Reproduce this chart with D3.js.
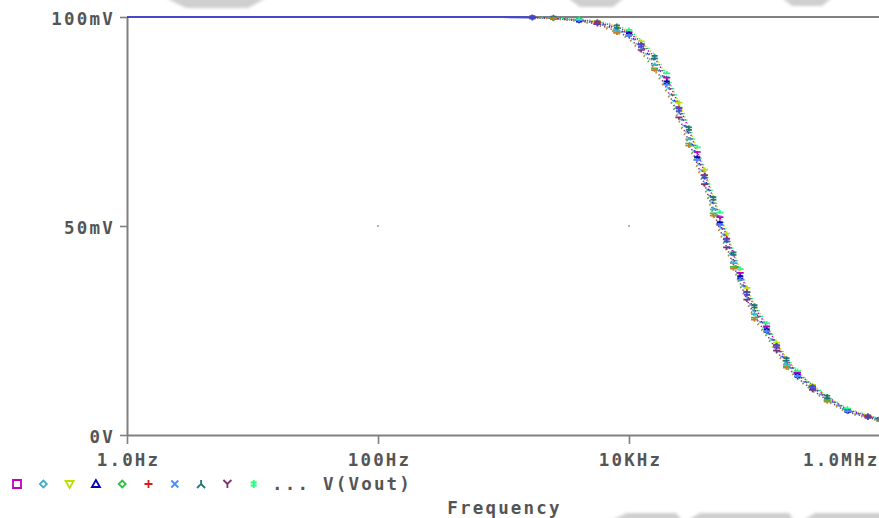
<!DOCTYPE html>
<html>
<head>
<meta charset="utf-8">
<script src="https://cdn.jsdelivr.net/npm/d3@7"></script>
<style>
  html, body { margin: 0; padding: 0; background: #fff; overflow: hidden; }
  svg { display: block; }
  .lbl { font-family: "DejaVu Sans Mono", monospace; font-weight: bold; font-size: 17.5px; letter-spacing: 2.2px; fill: #555; }
</style>
</head>
<body>
<svg id="chart" width="879" height="518"></svg>
<script>
// AC sweep of V(Vout): one frequency grid shared by every Monte Carlo run (values in mV)
const freqHz = [1, 10, 100, 1000, 1700, 2500, 4000, 5600, 8000, 10000, 12500, 16000, 20000, 25000,
  30000, 35000, 40000, 47000, 53000, 60000, 68000, 77000, 87000, 100000, 125000, 150000, 180000,
  220000, 290000, 380000, 550000, 800000, 1000000];

const run01 = [100,100,100,100,99.9,99.8,99.3,98.9,97.6,96.4,93.8,90.3,85.5,78.9,73.1,67.7,62.9,56.4,52.1,47.6,43.3,38.8,34.7,30.7,26.0,21.8,18.0,14.9,11.8,9.1,6.1,4.6,3.8];
const run02 = [100,100,100,100,99.9,99.6,99.1,98.4,96.8,95.4,92.4,88.5,83.3,76.5,70.7,65.3,60.5,54.0,49.7,45.4,41.1,36.8,32.8,28.9,24.5,20.5,16.8,13.9,11.0,8.4,5.6,4.3,3.5];
const run03 = [100,100,100,100,99.9,99.8,99.4,99.0,97.8,96.7,94.2,90.7,86.0,79.5,73.7,68.3,63.5,57.0,52.7,48.2,43.8,39.3,35.2,31.1,26.4,22.1,18.3,15.1,12.0,9.2,6.2,4.7,3.8];
const run04 = [100,100,100,100,99.9,99.7,99.2,98.6,97.1,95.8,93.1,89.1,84.3,77.4,71.8,66.2,61.6,55.0,50.6,46.4,41.9,37.7,33.5,29.7,25.0,21.1,17.3,14.2,11.3,8.7,5.8,4.4,3.6];
const run05 = [100,100,100,100,99.9,99.6,99.0,98.2,96.4,94.9,91.8,87.7,82.4,75.5,69.7,64.3,59.5,53.0,48.7,44.4,40.2,35.9,32.0,28.1,23.8,19.9,16.3,13.5,10.6,8.2,5.4,4.1,3.4];
const run06 = [100,100,100,100,99.9,99.7,99.3,98.7,97.4,96.1,93.4,89.7,84.8,78.2,72.4,67.0,62.2,55.7,51.4,47.0,42.6,38.2,34.2,30.1,25.6,21.4,17.7,14.6,11.5,8.9,5.9,4.5,3.7];
const run07 = [100,100,100,100,99.9,99.7,99.2,98.5,96.9,95.6,92.7,88.8,83.8,77.0,71.2,65.8,61.0,54.5,50.2,45.8,41.6,37.2,33.2,29.2,24.8,20.7,17.1,14.1,11.1,8.6,5.7,4.3,3.5];
const run08 = [100,100,100,100,99.9,99.8,99.4,98.9,97.7,96.5,94.0,90.4,85.6,79.1,73.3,67.9,63.1,56.6,52.3,47.8,43.4,39.0,34.9,30.8,26.1,21.9,18.1,14.9,11.8,9.1,6.1,4.6,3.8];
const run09 = [100,100,100,100,99.9,99.6,99.1,98.3,96.6,95.1,92.1,88.1,82.9,76.0,70.2,64.8,60.0,53.5,49.2,44.9,40.7,36.3,32.4,28.5,24.1,20.2,16.6,13.7,10.8,8.3,5.5,4.2,3.4];
const run10 = [100,100,100,100,100,99.8,99.5,99.1,98.0,96.9,94.5,91.1,86.5,80.0,74.2,68.8,64.0,57.5,53.2,48.7,44.3,39.7,35.6,31.5,26.7,22.4,18.6,15.3,12.1,9.4,6.3,4.8,3.9];
const run11 = [100,100,100,100,99.9,99.6,99.0,98.1,96.2,94.7,91.5,87.3,81.9,75.0,69.2,63.8,59.0,52.5,48.2,43.9,39.8,35.5,31.6,27.6,23.5,19.6,16.1,13.3,10.5,8.0,5.3,4.0,3.3];
const run12 = [100,100,100,100,99.9,99.7,99.2,98.7,97.2,95.9,93.2,89.4,84.5,77.8,72.0,66.6,61.8,55.3,51.0,46.6,42.3,37.9,33.8,29.8,25.3,21.2,17.5,14.4,11.4,8.8,5.9,4.4,3.6];

const runs = [run01, run02, run03, run04, run05, run06, run07, run08, run09, run10, run11, run12];
const runColors = ["#c000c0", "#40b0c8", "#b8e000", "#0000b8", "#30c040", "#d02020",
  "#4a8cff", "#207878", "#803070", "#20ff80", "#c88030", "#4848c8"];
const runMarkers = ["square", "diamond", "triDown", "triUp", "diamond", "plus",
  "cross", "invY", "wye", "dagger", "bar", "dagger"];

const xTicks = [1, 100, 1e4, 1e6];
const xTickLabels = ["1.0Hz", "100Hz", "10KHz", "1.0MHz"];
const yTicks = [0, 50, 100];
const yTickLabels = ["0V", "50mV", "100mV"];
const legendShown = 10;
const legendText = "... V(Vout)";
const xTitle = "Frequency";

// legend marker outlines, drawn around (0,0)
const markerPath = {
  square:  "M-4,-4H4V4H-4Z",
  diamond: "M0,-3.5L3.5,0L0,3.5L-3.5,0Z",
  triDown: "M-4,-3H4L0,4Z",
  triUp:   "M0,-4L4,3H-4Z",
  plus:    "M-4,0H4M0,-4V4",
  cross:   "M-3.5,-3.5L3.5,3.5M3.5,-3.5L-3.5,3.5",
  invY:    "M0,-4V0L-4,4M0,0L4,4",
  wye:     "M-4,-4L0,0L4,-4M0,0V4",
  dagger:  "M0,-4V4M-3,-1.5H3M-3,1.5H3",
  bar:     "M-3.5,0H3.5"
};
// the same markers as they come out at trace size: small bars with a stem
const traceMark = ["M-3.5,0H3.5M0,0V2.5", "M-3.5,0H3.5M0,-2.5V0", "M-3.5,0H3.5M0,-2V2",
  "M-3,-1.2H3M-3,1.2H3M0,-3V3"];

const svg = d3.select("#chart");
const plotLeft = 127, plotRight = 880, plotTop = 17, plotBottom = 435;

const x = d3.scaleLog().domain([1, 1e6]).range([plotLeft, plotRight]);
const y = d3.scaleLinear().domain([0, 100]).range([plotBottom, plotTop]);

// soft grey shading along the top and bottom edges
const defs = svg.append("defs");
defs.append("filter").attr("id", "soft").attr("x", "-20%").attr("y", "-100%")
  .attr("width", "140%").attr("height", "300%")
  .append("feGaussianBlur").attr("stdDeviation", 1.6);
const shade = svg.append("g").attr("filter", "url(#soft)").attr("fill", "#cfcfcf");
[
  [[166,-2],[266,-2],[248,8],[186,8]],
  [[568,-2],[624,-2],[613,7],[580,7]],
  [[782,-2],[832,-2],[822,6],[792,6]],
  [[612,520],[627,513],[676,513],[682,520]],
  [[688,520],[700,513],[789,513],[794,520]],
  [[804,520],[815,513],[884,513],[884,520]]
].forEach(p => shade.append("polygon").attr("points", p.map(q => q.join(",")).join(" ")));

// frame
const axisColor = "#808080";
svg.append("line").attr("x1", plotLeft).attr("x2", plotRight).attr("y1", plotTop).attr("y2", plotTop)
  .attr("stroke", axisColor).attr("stroke-width", 2);

const gy = svg.append("g").attr("transform", `translate(${plotLeft},0)`)
  .call(d3.axisLeft(y).tickValues(yTicks).tickSize(7).tickSizeOuter(0).tickPadding(5)
    .tickFormat((d, i) => yTickLabels[i]));
const gx = svg.append("g").attr("transform", `translate(0,${plotBottom})`)
  .call(d3.axisBottom(x).tickValues(xTicks).tickSize(9).tickSizeOuter(0)
    .tickFormat((d, i) => xTickLabels[i]));

[gx, gy].forEach(g => {
  g.select(".domain").attr("stroke", axisColor).attr("stroke-width", 2);
  g.selectAll(".tick line").attr("stroke", axisColor).attr("stroke-width", 1.6);
  g.selectAll(".tick text").attr("class", "lbl").attr("font-size", null).attr("font-family", null).attr("fill", null);
});
gy.selectAll(".tick text").attr("dy", null).attr("y", 7);
gx.selectAll(".tick text").attr("dy", null).attr("y", 31).attr("x", 1);
// last frequency label is kept inside the right edge
gx.selectAll(".tick").filter(d => d === 1e6).select("text")
  .attr("text-anchor", "end").attr("x", -1);

// grid dots at interior tick crossings
xTicks.filter(d => d > 1 && d < 1e6).forEach(fx =>
  yTicks.filter(v => v > 0 && v < 100).forEach(vy =>
    svg.append("rect").attr("x", x(fx) - 0.75).attr("y", y(vy) - 0.75)
      .attr("width", 1.5).attr("height", 1.5).attr("fill", "#777")));

// traces, dotted
const line = d3.line().x(d => x(d[0])).y(d => y(d[1]));
const traces = svg.append("g").attr("fill", "none");
runs.forEach((vals, i) => {
  const pts = freqHz.map((f, j) => [f, vals[j]]);
  traces.append("path").attr("d", line(pts))
    .attr("stroke", runColors[i]).attr("stroke-width", 1.5)
    .attr("stroke-dasharray", "1.3 5.5").attr("stroke-dashoffset", i * 2.3);
});

// flat passband of the last run, drawn solid over the frame
const nominal = runs[runs.length - 1];
traces.append("path")
  .attr("d", d3.line().defined(d => d[1] >= 99.85).x(d => x(d[0])).y(d => y(d[1]))(freqHz.map((f, j) => [f, nominal[j]])))
  .attr("stroke", runColors[runs.length - 1]).attr("stroke-width", 2.2);

// markers along each run
const marks = svg.append("g").attr("fill", "none");
runs.forEach((vals, i) => {
  freqHz.forEach((f, j) => {
    if (j < 4 || (j + i) % 3 !== 0) return;
    marks.append("path").attr("d", traceMark[i % traceMark.length])
      .attr("transform", `translate(${x(f)},${y(vals[j])})`)
      .attr("stroke", runColors[i]).attr("stroke-width", 1.7);
  });
});

// legend
const leg = svg.append("g");
for (let i = 0; i < legendShown; i++) {
  leg.append("path").attr("d", markerPath[runMarkers[i]])
    .attr("transform", `translate(${17 + i * 26.3},484)`)
    .attr("fill", "none").attr("stroke", runColors[i]).attr("stroke-width", 1.8);
}
leg.append("text").attr("class", "lbl").attr("x", 272).attr("y", 490).text(legendText);

svg.append("text").attr("class", "lbl").attr("x", (plotLeft + plotRight) / 2 + 1).attr("y", 514)
  .attr("text-anchor", "middle").text(xTitle);
</script>
</body>
</html>
